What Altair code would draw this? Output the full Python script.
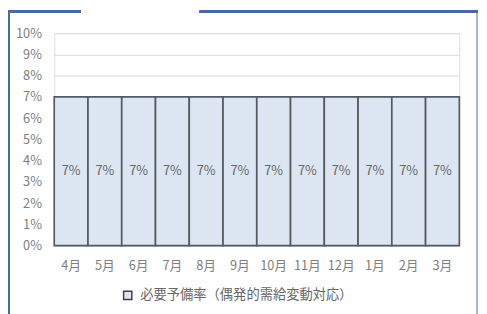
import altair as alt
import pandas as pd

months = ["4月", "5月", "6月", "7月", "8月", "9月", "10月", "11月", "12月", "1月", "2月", "3月"]
values = [7, 7, 7, 7, 7, 7, 7, 7, 7, 7, 7, 7]  # percent
series_name = "必要予備率（偶発的需給変動対応）"
y_ticks = [0, 1, 2, 3, 4, 5, 6, 7, 8, 9, 10]

df = pd.DataFrame({"month": months, "value": values, "series": [series_name] * len(months)})

FONT = "Noto Sans CJK JP"
W, H = 412, 216

x_axis = alt.Axis(labelAngle=0, ticks=False, domain=False, labelPadding=14,
                  labelFont=FONT, labelFontSize=13, labelColor="#808080")
x_scale = alt.Scale(paddingInner=0, paddingOuter=0)
y_axis = alt.Axis(values=y_ticks, tickCount=20, labelExpr="datum.value + '%'",
                  ticks=False, tickSize=0, domain=False, labelOverlap=False,
                  labelPadding=13, gridColor="#e0e0e0", gridWidth=1.2,
                  labelFont=FONT, labelFontSize=13, labelColor="#808080")
y_scale = alt.Scale(domain=[0, 10], nice=False)

bars = alt.Chart(df).mark_bar(stroke="#555a60", strokeWidth=1.7).encode(
    x=alt.X("month:N", sort=months, title=None, scale=x_scale, axis=x_axis),
    y=alt.Y("value:Q", title=None, scale=y_scale, axis=y_axis),
    color=alt.Color("series:N", title=None,
                    scale=alt.Scale(range=["#dce6f2"]),
                    legend=alt.Legend(orient="none", legendX=68, legendY=260,
                                      symbolType="square", symbolSize=70,
                                      symbolStrokeColor="#404040", symbolStrokeWidth=1.5,
                                      labelFont=FONT, labelFontSize=13.5, labelColor="#666666",
                                      labelLimit=400, labelOffset=6)),
)

labels = alt.Chart(df).transform_calculate(
    mid="datum.value / 2", lab="datum.value + '%'"
).mark_text(
    font=FONT, fontSize=13, color="#666666", baseline="middle"
).encode(
    x=alt.X("month:N", sort=months, title=None, scale=x_scale, axis=x_axis),
    y=alt.Y("mid:Q", title=None, scale=y_scale, axis=y_axis),
    text=alt.Text("lab:N"),
)

frame_left = alt.Chart(df).mark_rule(color="#4a68a8", strokeWidth=2).encode(
    x=alt.value(-46), y=alt.value(-23), y2=alt.value(H + 70))
frame_right = alt.Chart(df).mark_rule(color="#a8b6d4", strokeWidth=1.5).encode(
    x=alt.value(430), y=alt.value(-22), y2=alt.value(H + 70))
frame_top1 = alt.Chart(df).mark_rule(color="#4a68a8", strokeWidth=2).encode(
    x=alt.value(-47), x2=alt.value(27), y=alt.value(-22))
frame_top2 = alt.Chart(df).mark_rule(color="#4a68a8", strokeWidth=2).encode(
    x=alt.value(148), x2=alt.value(431), y=alt.value(-22))

chart = alt.layer(bars, labels, frame_left, frame_right, frame_top1, frame_top2).properties(
    width=W, height=H,
    autosize=alt.AutoSizeParams(type="none"),
    padding={"left": 47, "top": 23, "right": 20, "bottom": 67},
).configure_view(stroke=None).configure(font=FONT)

chart.save("out.html", embed_options={"renderer": "svg", "actions": False})
